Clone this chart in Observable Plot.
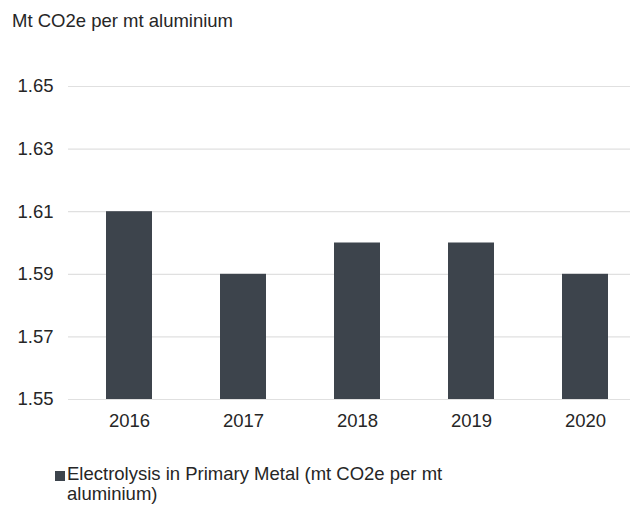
<!DOCTYPE html>
<html>
<head>
<meta charset="utf-8">
<script src="https://cdn.jsdelivr.net/npm/d3@7"></script>
<script src="https://cdn.jsdelivr.net/npm/@observablehq/plot@0.6"></script>
<style>
  html, body { margin: 0; padding: 0; background: #fff; }
  body { width: 630px; height: 505px; overflow: hidden; font-family: "Liberation Sans", Arial, sans-serif; color: #262626; }
  #title { height: 28px; padding: 12px 0 0 12px; font-size: 18.5px; line-height: 18px; }
  #legend { padding: 25px 0 0 55px; display: flex; align-items: flex-start; font-size: 18.5px; line-height: 20px; }
  #legend .sw { width: 10px; height: 10px; background: #3d444c; margin: 7px 2px 0 0; flex: none; }
  #legend .tx { width: 410px; }
</style>
</head>
<body>
<div id="title"></div>
<div id="chart"></div>
<div id="legend"><span class="sw"></span><span class="tx"></span></div>
<script>
const titleText = "Mt CO2e per mt aluminium";
const seriesName = "Electrolysis in Primary Metal (mt CO2e per mt aluminium)";
const years = ["2016", "2017", "2018", "2019", "2020"];
const values = [1.61, 1.59, 1.60, 1.60, 1.59];
const yDomain = [1.55, 1.65];
const yTicks = [1.55, 1.57, 1.59, 1.61, 1.63, 1.65];

const barColor = "#3d444c";
const data = years.map((year, i) => ({year, value: values[i]}));

document.getElementById("title").textContent = titleText;
document.querySelector("#legend .tx").textContent = seriesName;

const chart = Plot.plot({
  width: 630,
  height: 399,
  marginTop: 46,
  marginBottom: 40,
  marginLeft: 68,
  marginRight: 0,
  style: {fontFamily: "'Liberation Sans', Arial, sans-serif", fontSize: "18.5px", color: "#262626", background: "#fff"},
  x: {domain: years, paddingInner: 0.6, paddingOuter: 0.25, align: 0.63, label: null},
  y: {domain: yDomain, label: null},
  marks: [
    Plot.ruleY(yTicks, {stroke: "#e0e0e0", strokeWidth: 1.2}),
    Plot.barY(data, {x: "year", y1: () => yDomain[0], y2: "value", fill: barColor}),
    Plot.axisX({tickSize: 0, tickPadding: 14, fontSize: 18.5}),
    Plot.axisY({ticks: yTicks, tickSize: 0, tickPadding: 15, tickFormat: d3.format(".2f"), fontSize: 18.5})
  ]
});
document.getElementById("chart").appendChild(chart);
</script>
</body>
</html>
